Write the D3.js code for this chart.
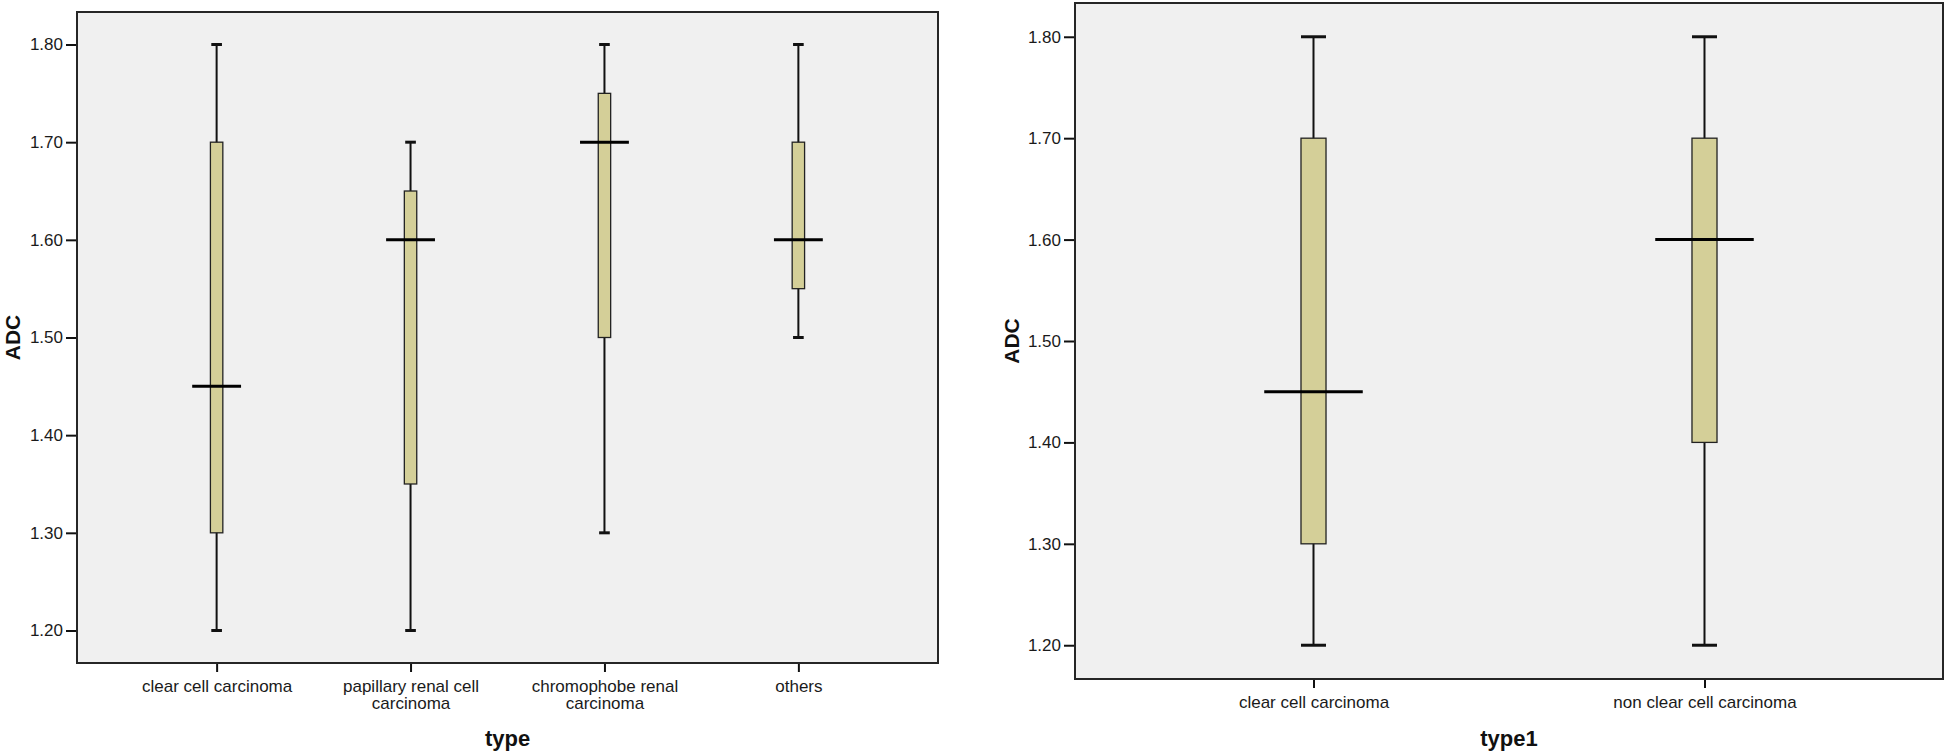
<!DOCTYPE html>
<html>
<head>
<meta charset="utf-8">
<script src="https://d3js.org/d3.v7.min.js"></script>
<style>
  body { margin: 0; background: #fff; }
  svg { display: block; font-family: "Liberation Sans", Arial, sans-serif; }
  .tick text { fill: #1a1a1a; }
  .axis-title { font-weight: bold; fill: #111; }
</style>
</head>
<body>
<svg width="1946" height="755"></svg>
<script>
// left chart: ADC by type
var typeCats = ['clear cell carcinoma', 'papillary renal cell carcinoma', 'chromophobe renal carcinoma', 'others'];
var typeLow  = [1.20, 1.20, 1.30, 1.50];
var typeQ1   = [1.30, 1.35, 1.50, 1.55];
var typeMed  = [1.45, 1.60, 1.70, 1.60];
var typeQ3   = [1.70, 1.65, 1.75, 1.70];
var typeHigh = [1.80, 1.70, 1.80, 1.80];

// right chart: ADC by type1
var type1Cats = ['clear cell carcinoma', 'non clear cell carcinoma'];
var type1Low  = [1.20, 1.20];
var type1Q1   = [1.30, 1.40];
var type1Med  = [1.45, 1.60];
var type1Q3   = [1.70, 1.70];
var type1High = [1.80, 1.80];

var yTicks = [1.20, 1.30, 1.40, 1.50, 1.60, 1.70, 1.80];
var yDomain = [1.1667, 1.8333];

var svg = d3.select('svg');

function wrap(text, width) {
    text.each(function() {
        var t = d3.select(this),
            words = t.text().split(/\s+/),
            line = [],
            lineNo = 0,
            y = t.attr('y'),
            tspan = t.text(null).append('tspan').attr('x', 0).attr('y', y).attr('dy', '0.71em');
        words.forEach(function(w) {
            line.push(w);
            tspan.text(line.join(' '));
            if (tspan.node().getComputedTextLength() > width && line.length > 1) {
                line.pop();
                tspan.text(line.join(' '));
                line = [w];
                lineNo++;
                tspan = t.append('tspan').attr('x', 0).attr('y', y)
                    .attr('dy', (0.71 + lineNo * 0.98) + 'em').text(w);
            }
        });
    });
}

function drawPanel(p) {
    var x = d3.scalePoint()
        .domain(p.cats)
        .range([p.left, p.right])
        .padding(p.pad);
    var y = d3.scaleLinear()
        .domain(yDomain)
        .range([p.bottom, p.top]);
    var step = x.step();
    var boxW = step * 0.064,
        capW = step * p.cap,
        medW = step * 0.252;

    var g = svg.append('g');

    // plot background + frame
    g.append('rect')
        .attr('x', p.left).attr('y', p.top)
        .attr('width', p.right - p.left).attr('height', p.bottom - p.top)
        .attr('fill', '#f0f0f0');

    var yAxis = d3.axisLeft(y)
        .tickValues(yTicks)
        .tickFormat(d3.format('.2f'))
        .tickSize(11)
        .tickPadding(3);
    var ya = g.append('g')
        .attr('transform', 'translate(' + p.left + ',0)')
        .call(yAxis);
    ya.select('.domain').remove();
    ya.selectAll('line').attr('stroke', '#111').attr('stroke-width', 2);
    ya.selectAll('text').style('font-size', '17px');

    var xAxis = d3.axisBottom(x)
        .tickSize(9)
        .tickPadding(8);
    var xa = g.append('g')
        .attr('transform', 'translate(0,' + p.bottom + ')')
        .call(xAxis);
    xa.select('.domain').remove();
    xa.selectAll('line').attr('stroke', '#111').attr('stroke-width', 2);
    xa.selectAll('text').style('font-size', '17px').call(wrap, step * 0.85);

    var items = p.cats.map(function(c, i) {
        return {cat: c, lo: p.low[i], q1: p.q1[i], med: p.med[i], q3: p.q3[i], hi: p.high[i]};
    });

    var b = g.selectAll('.box').data(items).enter().append('g').attr('class', 'box');

    // whiskers
    b.append('line')
        .attr('x1', function(d) { return x(d.cat); })
        .attr('x2', function(d) { return x(d.cat); })
        .attr('y1', function(d) { return y(d.lo); })
        .attr('y2', function(d) { return y(d.hi); })
        .attr('stroke', '#111').attr('stroke-width', 2);
    // caps
    b.selectAll('.cap')
        .data(function(d) { return [[d.cat, d.lo], [d.cat, d.hi]]; })
        .enter().append('line')
        .attr('x1', function(d) { return x(d[0]) - capW / 2; })
        .attr('x2', function(d) { return x(d[0]) + capW / 2; })
        .attr('y1', function(d) { return y(d[1]); })
        .attr('y2', function(d) { return y(d[1]); })
        .attr('stroke', '#111').attr('stroke-width', 3);
    // boxes
    b.append('rect')
        .attr('x', function(d) { return x(d.cat) - boxW / 2; })
        .attr('y', function(d) { return y(d.q3); })
        .attr('width', boxW)
        .attr('height', function(d) { return y(d.q1) - y(d.q3); })
        .attr('fill', '#d4cf98')
        .attr('stroke', '#222').attr('stroke-width', 1.3);
    // medians
    b.append('line')
        .attr('x1', function(d) { return x(d.cat) - medW / 2; })
        .attr('x2', function(d) { return x(d.cat) + medW / 2; })
        .attr('y1', function(d) { return y(d.med); })
        .attr('y2', function(d) { return y(d.med); })
        .attr('stroke', '#000').attr('stroke-width', 3);

    // frame
    g.append('rect')
        .attr('x', p.left).attr('y', p.top)
        .attr('width', p.right - p.left).attr('height', p.bottom - p.top)
        .attr('fill', 'none')
        .attr('stroke', '#262626').attr('stroke-width', 2);

    // axis titles
    g.append('text')
        .attr('class', 'axis-title')
        .attr('transform', 'translate(' + p.yTitleX + ',' + ((p.top + p.bottom) / 2) + ') rotate(-90)')
        .attr('text-anchor', 'middle')
        .style('font-size', '21px')
        .text('ADC');
    g.append('text')
        .attr('class', 'axis-title')
        .attr('x', (p.left + p.right) / 2)
        .attr('y', 746)
        .attr('text-anchor', 'middle')
        .style('font-size', '22px')
        .text(p.xTitle);
}

drawPanel({
    cats: typeCats, low: typeLow, q1: typeQ1, med: typeMed, q3: typeQ3, high: typeHigh,
    left: 77, right: 938, top: 12, bottom: 663, pad: 0.72, cap: 0.055,
    yTitleX: 20, xTitle: 'type'
});

drawPanel({
    cats: type1Cats, low: type1Low, q1: type1Q1, med: type1Med, q3: type1Q3, high: type1High,
    left: 1075, right: 1943, top: 3, bottom: 679, pad: 0.61, cap: 0.064,
    yTitleX: 1019, xTitle: 'type1'
});
</script>
</body>
</html>
